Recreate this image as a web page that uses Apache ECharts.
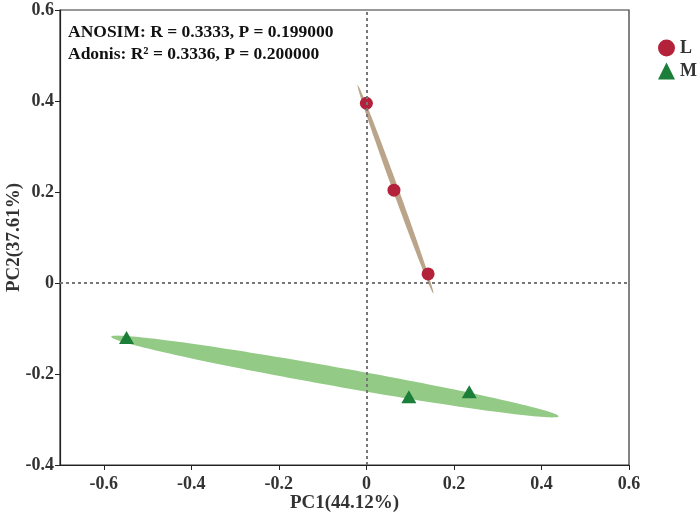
<!DOCTYPE html>
<html><head><meta charset="utf-8">
<script src="https://cdn.jsdelivr.net/npm/echarts@6/dist/echarts.min.js"></script>
<style>html,body{margin:0;padding:0;background:#fff}#c{width:700px;height:516px}</style>
</head><body><div id="c"></div>
<script>
// ---- data ----
var groupNames = ['L', 'M'];
var pointsL = [[0.000, 0.395], [0.063, 0.204], [0.141, 0.020]];
var pointsM = [[-0.548, -0.120], [0.097, -0.250], [0.235, -0.239]];
// ellipse tips (major-axis endpoints) in data units: [x1, y1, x2, y2]
var ellipseL = [[-0.020, 0.435, 0.153, -0.023]];
var ellipseM = [[-0.583, -0.118, 0.439, -0.293]];
var xTicks = [-0.6, -0.4, -0.2, 0, 0.2, 0.4, 0.6];
var statLines = ['ANOSIM: R = 0.3333, P = 0.199000', 'Adonis: R\u00b2 = 0.3336, P = 0.200000'];
var xName = 'PC1(44.12%)';
var yName = 'PC2(37.61%)';

var FONT = "'Liberation Serif', 'Times New Roman', serif";
var labelStyle = {fontFamily: FONT, fontWeight: 'bold', fontSize: 18, color: '#333'};

function ellipseRenderer(halfWidth) {
  return function (params, api) {
    var p1 = api.coord([api.value(0), api.value(1)]);
    var p2 = api.coord([api.value(2), api.value(3)]);
    var cx = (p1[0] + p2[0]) / 2, cy = (p1[1] + p2[1]) / 2;
    var dx = p2[0] - p1[0], dy = p2[1] - p1[1];
    var a = Math.sqrt(dx * dx + dy * dy) / 2;
    var ang = Math.atan2(dy, dx);
    var c = Math.cos(ang), s = Math.sin(ang);
    var pts = [];
    for (var i = 0; i < 160; i++) {
      var t = i / 160 * Math.PI * 2;
      var ex = a * Math.cos(t), ey = halfWidth * Math.sin(t);
      pts.push([cx + ex * c - ey * s, cy + ex * s + ey * c]);
    }
    return {type: 'polygon', shape: {points: pts}, style: {fill: api.visual('color')}};
  };
}

var chart = echarts.init(document.getElementById('c'), null, {renderer: 'canvas'});
chart.setOption({
  animation: false,
  grid: {left: 60, right: 71, top: 10, bottom: 51, containLabel: false, outerBoundsMode: 'none',
         show: true, borderColor: '#333', borderWidth: 1.2, backgroundColor: 'transparent'},
  legend: {
    data: groupNames, orient: 'vertical', left: 653, top: 34, itemGap: 5,
    itemWidth: 17, itemHeight: 17,
    textStyle: {fontFamily: FONT, fontWeight: 'bold', fontSize: 18, color: '#333'}
  },
  graphic: [
    {type: 'text', left: 68, top: 23, style: {text: statLines[0], font: "bold 17.5px " + FONT, fill: '#111'}},
    {type: 'text', left: 68, top: 45, style: {text: statLines[1], font: "bold 17.5px " + FONT, fill: '#111'}}
  ],
  xAxis: {
    type: 'value', min: -0.7, max: 0.6,
    name: xName, nameLocation: 'middle', nameGap: 29, nameMoveOverlap: false,
    nameTextStyle: {fontFamily: FONT, fontWeight: 'bold', fontSize: 19, color: '#333'},
    axisLine: {onZero: false, lineStyle: {color: '#222', width: 1.2}},
    axisTick: {show: true, inside: false, length: 5, customValues: xTicks, lineStyle: {color: '#222'}},
    axisLabel: Object.assign({margin: 10, customValues: xTicks, formatter: function (v) { return Math.abs(v) < 1e-9 ? '0' : v.toFixed(1); }}, labelStyle),
    splitLine: {show: false}
  },
  yAxis: {
    type: 'value', min: -0.4, max: 0.6, interval: 0.2,
    name: yName, nameLocation: 'middle', nameGap: 36, nameRotate: 90, nameMoveOverlap: false,
    nameTextStyle: {fontFamily: FONT, fontWeight: 'bold', fontSize: 19, color: '#333'},
    axisLine: {onZero: false, lineStyle: {color: '#222', width: 1.2}},
    axisTick: {show: true, inside: false, length: 5, lineStyle: {color: '#222'}},
    axisLabel: Object.assign({margin: 6, formatter: function (v) { return Math.abs(v) < 1e-9 ? '0' : v.toFixed(1); }}, labelStyle),
    splitLine: {show: false}
  },
  series: [
    {
      type: 'scatter', data: [], silent: true, z: 1,
      markLine: {
        silent: true, symbol: 'none', label: {show: false},
        lineStyle: {color: '#777', type: [3, 3], width: 2},
        data: [{xAxis: 0}, {yAxis: 0}]
      }
    },
    {
      type: 'custom', name: 'Lellipse', data: ellipseL, z: 2, silent: true,
      encode: {x: [0, 2], y: [1, 3]},
      itemStyle: {color: '#bba58a'},
      renderItem: ellipseRenderer(2.9)
    },
    {
      type: 'custom', name: 'Mellipse', data: ellipseM, z: 2, silent: true,
      encode: {x: [0, 2], y: [1, 3]},
      itemStyle: {color: '#93cb86'},
      renderItem: ellipseRenderer(9.5)
    },
    {
      type: 'scatter', name: 'L', data: pointsL, z: 3,
      symbol: 'circle', symbolSize: 13, itemStyle: {color: '#b3223a', opacity: 1}
    },
    {
      type: 'scatter', name: 'M', data: pointsM, z: 3,
      symbol: 'triangle', symbolSize: [15, 13], itemStyle: {color: '#1b7f3a', opacity: 1}
    }
  ]
});
</script></body></html>
